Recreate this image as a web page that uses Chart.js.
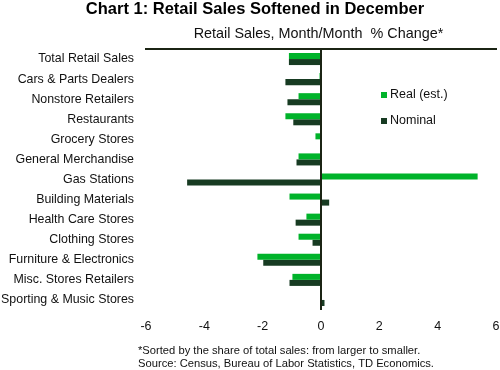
<!DOCTYPE html>
<html>
<head>
<meta charset="utf-8">
<script src="https://cdn.jsdelivr.net/npm/chart.js@4"></script>
<style>
html,body{margin:0;padding:0;background:#fff;}
#wrap{position:relative;width:500px;height:370px;}
</style>
</head>
<body>
<div id="wrap"><canvas id="c" width="500" height="370"></canvas></div>
<script>
const categories = ["Total Retail Sales","Cars & Parts Dealers","Nonstore Retailers","Restaurants","Grocery Stores","General Merchandise","Gas Stations","Building Materials","Health Care Stores","Clothing Stores","Furniture & Electronics","Misc. Stores Retailers","Sporting & Music Stores"];
const realValues = [-1.1, -0.05, -0.77, -1.22, -0.19, -0.77, 5.37, -1.08, -0.5, -0.77, -2.18, -0.98, 0];
const nominalValues = [-1.1, -1.22, -1.15, -0.95, 0, -0.84, -4.59, 0.28, -0.87, -0.29, -1.98, -1.08, 0.12];
const xTicks = [-6, -4, -2, 0, 2, 4, 6];
const seriesNames = ["Real (est.)", "Nominal"];
const titleText = "Chart 1: Retail Sales Softened in December";
const subtitleText = "Retail Sales, Month/Month  % Change*";
const footnotes = ["*Sorted by the share of total sales: from larger to smaller.", "Source: Census, Bureau of Labor Statistics, TD Economics."];

const REAL = "#00b32a";
const NOM = "#173b22";
const AXIS = "#1b2414";
const FONT = "'Liberation Sans', Arial, sans-serif";

const textPlugin = {
  id: 'texts',
  afterDraw(chart) {
    const ctx = chart.ctx;
    ctx.save();
    ctx.fillStyle = "#000";
    ctx.textBaseline = "middle";
    ctx.textAlign = "center";
    ctx.font = "bold 16.5px " + FONT;
    ctx.fillText(titleText, 255, 9);
    ctx.font = "14.4px " + FONT;
    ctx.fillStyle = "#111";
    ctx.fillText(subtitleText, 318.5, 34);
    // legend
    ctx.textAlign = "left";
    ctx.font = "12.5px " + FONT;
    const colors = [REAL, NOM];
    const ys = [95, 121];
    for (let i = 0; i < seriesNames.length; i++) {
      ctx.fillStyle = colors[i];
      ctx.fillRect(381, ys[i] - 3, 6, 6);
      ctx.fillStyle = "#111";
      ctx.fillText(seriesNames[i], 390, ys[i]);
    }
    // footnotes
    ctx.font = "11.2px " + FONT;
    ctx.fillStyle = "#111";
    ctx.fillText(footnotes[0], 138, 351);
    ctx.fillText(footnotes[1], 138, 364);
    ctx.restore();
  }
};

new Chart(document.getElementById('c'), {
  type: 'bar',
  data: {
    labels: categories,
    datasets: [
      { label: seriesNames[0], data: realValues, backgroundColor: REAL, borderWidth: 0, categoryPercentage: 0.6, barPercentage: 1.0 },
      { label: seriesNames[1], data: nominalValues, backgroundColor: NOM, borderWidth: 0, categoryPercentage: 0.6, barPercentage: 1.0 }
    ]
  },
  options: {
    indexAxis: 'y',
    responsive: false,
    animation: false,
    events: [],
    layout: { padding: { top: 49, right: 4, left: 0, bottom: 0 } },
    plugins: { legend: { display: false }, tooltip: { enabled: false }, title: { display: false } },
    scales: {
      x: {
        position: 'bottom',
        min: -6, max: 6,
        afterBuildTicks(scale) { scale.ticks = xTicks.map(v => ({ value: v })); },
        ticks: { color: "#111", font: { family: FONT, size: 12.5 }, padding: 9 },
        grid: {
          drawTicks: false,
          color: ctx => (ctx.tick && ctx.tick.value === 0) ? AXIS : 'rgba(0,0,0,0)',
          lineWidth: ctx => (ctx.tick && ctx.tick.value === 0) ? 2 : 0
        },
        border: { display: false },
        afterFit(scale) { scale.height = 60; scale.paddingLeft = 0; scale.paddingRight = 0; }
      },
      x2: {
        position: 'top',
        min: -6, max: 6,
        ticks: { display: false },
        grid: { display: false, drawTicks: false },
        border: { display: true, color: AXIS, width: 2 },
        afterFit(scale) { scale.height = 0; scale.paddingLeft = 0; scale.paddingRight = 0; }
      },
      y: {
        ticks: { color: "#111", font: { family: FONT, size: 12.4 }, padding: 12, autoSkip: false },
        grid: { display: false, drawTicks: false },
        border: { display: false },
        afterFit(scale) { scale.width = 146; scale.paddingTop = 0; scale.paddingBottom = 0; }
      }
    }
  },
  plugins: [textPlugin]
});
</script>
</body>
</html>
